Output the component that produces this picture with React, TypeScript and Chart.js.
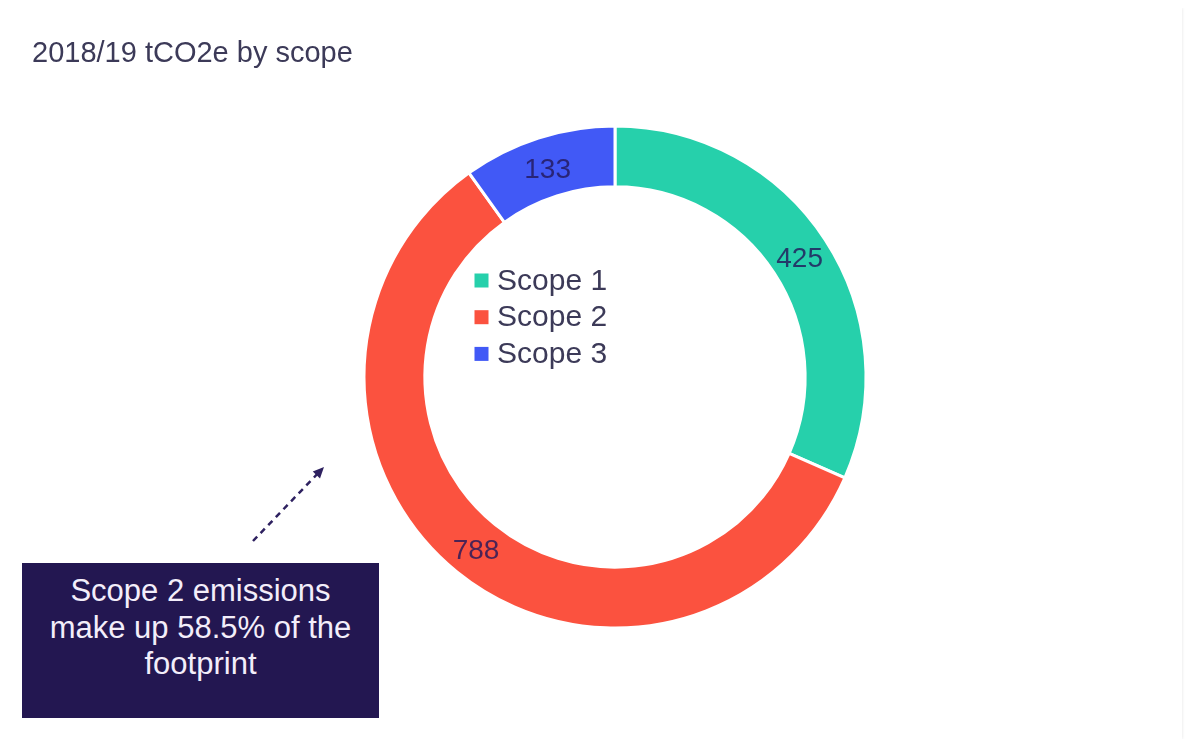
import React, { useEffect, useRef } from "react";
import { Chart, registerables } from "chart.js";

Chart.register(...registerables);

const categories = ["Scope 1", "Scope 2", "Scope 3"];
const values = [425, 788, 133];
const colors = ["#26d0ab", "#fb523f", "#4159f6"];
const titleText = "2018/19 tCO2e by scope";
const calloutLines = ["Scope 2 emissions", "make up 58.5% of the", "footprint"];

const FONT = "'Liberation Sans', Arial, sans-serif";

const overlayPlugin = {
  id: "overlay",
  afterDatasetsDraw(chart: any) {
    const ctx = chart.ctx;
    const meta = chart.getDatasetMeta(0);
    const ds = chart.data.datasets[0];
    ctx.save();
    // value labels
    ctx.font = `28px ${FONT}`;
    ctx.fillStyle = "rgba(35,25,90,0.82)";
    ctx.textAlign = "center";
    ctx.textBaseline = "middle";
    meta.data.forEach((arc: any, i: number) => {
      const p = arc.getCenterPoint();
      ctx.fillText(String(ds.data[i]), p.x, p.y + 3);
    });
    // legend in center
    const cx = (chart.chartArea.left + chart.chartArea.right) / 2;
    const cy = (chart.chartArea.top + chart.chartArea.bottom) / 2;
    ctx.textAlign = "left";
    ctx.textBaseline = "alphabetic";
    ctx.font = `30px ${FONT}`;
    (chart.data.labels as string[]).forEach((lab: string, i: number) => {
      const base = cy - 87.5 + i * 36.7;
      ctx.fillStyle = ds.backgroundColor[i];
      ctx.fillRect(cx - 140.5, base - 16, 14, 14);
      ctx.fillStyle = "#3c3a58";
      ctx.fillText(lab, cx - 118, base);
    });
    // dashed arrow
    const x0 = cx - 362, y0 = cy + 164;
    const x1 = cx - 291, y1 = cy + 90;
    ctx.strokeStyle = "#2e2160";
    ctx.fillStyle = "#2e2160";
    ctx.lineWidth = 2.5;
    ctx.setLineDash([6, 5]);
    const ang = Math.atan2(y1 - y0, x1 - x0);
    ctx.beginPath();
    ctx.moveTo(x0, y0);
    ctx.lineTo(x1 - 6 * Math.cos(ang), y1 - 6 * Math.sin(ang));
    ctx.stroke();
    ctx.setLineDash([]);
    ctx.beginPath();
    const hl = 11, hw = 5;
    ctx.moveTo(x1, y1);
    ctx.lineTo(x1 - hl * Math.cos(ang) + hw * Math.sin(ang), y1 - hl * Math.sin(ang) - hw * Math.cos(ang));
    ctx.lineTo(x1 - hl * Math.cos(ang) - hw * Math.sin(ang), y1 - hl * Math.sin(ang) + hw * Math.cos(ang));
    ctx.closePath();
    ctx.fill();
    ctx.restore();
  },
};

export default function App() {
  const ref = useRef<HTMLCanvasElement>(null);
  useEffect(() => {
    if (!ref.current) return;
    const chart = new Chart(ref.current, {
      type: "doughnut",
      data: {
        labels: categories,
        datasets: [
          {
            data: values,
            backgroundColor: colors,
            borderColor: "#ffffff",
            borderWidth: 3,
          },
        ],
      },
      options: {
        animation: false,
        responsive: false,
        radius: 251,
        cutout: 189,
        layout: { padding: { left: 356, right: 316, top: 118, bottom: 111 } },
        plugins: {
          legend: { display: false },
          title: { display: false },
          tooltip: { enabled: false },
        },
      } as any,
      plugins: [overlayPlugin],
    });
    return () => chart.destroy();
  }, []);

  return (
    <div
      style={{
        position: "relative",
        width: 1174,
        height: 731,
        background: "#ffffff",
        boxShadow: "0 0 3px rgba(0,0,0,0.12)",
        fontFamily: FONT,
      }}
    >
      <canvas ref={ref} width={1174} height={731} style={{ position: "absolute", left: 0, top: 0 }} />
      <div
        style={{
          position: "absolute",
          left: 24,
          top: 28,
          fontSize: 29,
          lineHeight: "normal",
          color: "#3c3a58",
          whiteSpace: "nowrap",
        }}
      >
        {titleText}
      </div>
      <div
        style={{
          position: "absolute",
          left: 14,
          top: 555,
          width: 357,
          height: 155,
          boxSizing: "border-box",
          paddingTop: 10,
          background: "#231751",
          color: "#f3eefa",
          fontSize: 31,
          lineHeight: "36.5px",
          textAlign: "center",
        }}
      >
        {calloutLines.map((l, i) => (
          <div key={i}>{l}</div>
        ))}
      </div>
    </div>
  );
}
